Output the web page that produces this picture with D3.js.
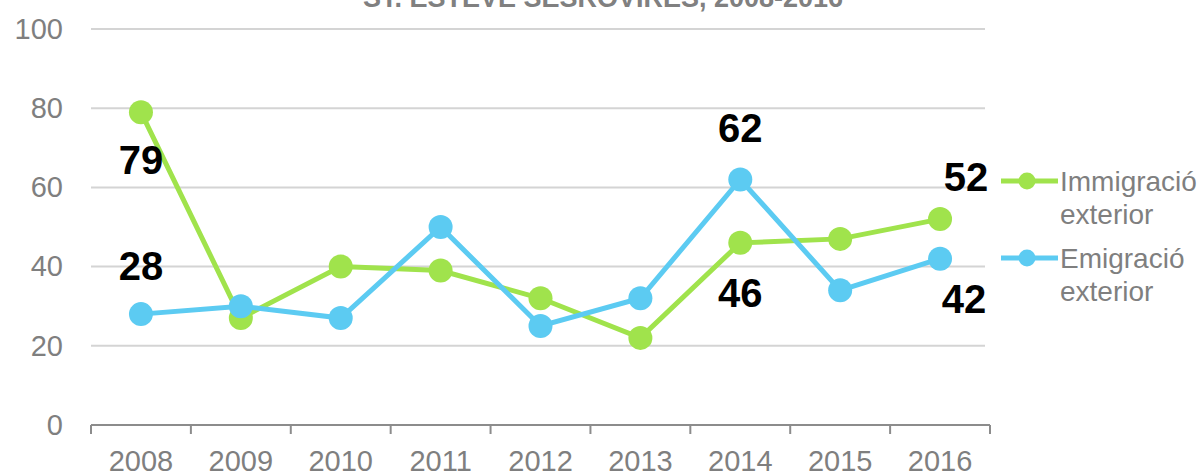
<!DOCTYPE html>
<html lang="ca">
<head>
	<meta charset="UTF-8">
	<title>Immigració i emigració exterior</title>
	<script src="https://cdn.jsdelivr.net/npm/d3@7"></script>
	<style>
		*{
			margin: 0px;
			box-sizing: border-box;
		}
		html,body{
			height:100%;
			overflow: hidden;
			background: #fff;
		}
		text{
			font-family: "Liberation Sans", Arial, sans-serif;
		}
		.yAxis path,.yAxis line{
			stroke:none;
		}
		.yAxis text,.xAxis text{
			font-size: 29px;
			fill: #7f7f7f;
		}
		.xAxis path,.xAxis line{
			stroke:#8c8c8c;
			stroke-width:2;
		}
		.grid line{
			stroke:#d4d4d4;
			stroke-width:2;
		}
		.series{
			fill:none;
			stroke-width:5;
		}
		.label{
			font-size: 40px;
			font-weight: bold;
			fill: #000;
		}
		.legend text{
			font-size: 28px;
			fill: #7f7f7f;
		}
	</style>
</head>
<body>
	<svg id="svg"></svg>
	<script>
		var years = ["2008", "2009", "2010", "2011", "2012", "2013", "2014", "2015", "2016"];
		var immigracio = [79, 27, 40, 39, 32, 22, 46, 47, 52];
		var emigracio = [28, 30, 27, 50, 25, 32, 62, 34, 42];
		var yTicks = [0, 20, 40, 60, 80, 100];
		var seriesNames = [["Immigració", "exterior"], ["Emigració", "exterior"]];
		var colors = ["#a0e34c", "#5ccbf2"];
		var title = "ST. ESTEVE SESROVIRES, 2008-2016";
		// which points get a value label, and where: [series, index, dx, dy]
		var labels = [[0, 0, 0, 62], [1, 0, 0, -34], [1, 6, 0, -37], [0, 6, 0, 64], [0, 8, 26, -28], [1, 8, 24, 54]];

		var w = 1204, h = 475,
			margin = {left: 91, top: 29, right: 216, bottom: 50},
			svg = d3.select("#svg").attr("width", w).attr("height", h);

		var x = d3.scaleBand().domain(years).range([margin.left, w - margin.right + 2]);
		var y = d3.scaleLinear().domain([0, 100]).range([h - margin.bottom, margin.top]);

		svg.append("text")
			.attr("x", 603).attr("y", 7)
			.attr("text-anchor", "middle")
			.style("font-size", "27px").style("font-weight", "bold").style("fill", "#808080")
			.text(title);

		svg.append("g").attr("class", "grid")
			.selectAll("line").data(yTicks.filter(function(d) { return d > 0; }))
			.enter().append("line")
			.attr("x1", margin.left).attr("x2", w - margin.right - 3)
			.attr("y1", function(d) { return y(d); })
			.attr("y2", function(d) { return y(d); });

		svg.append("g").attr("class", "yAxis")
			.attr("transform", "translate(" + margin.left + ",0)")
			.call(d3.axisLeft(y).tickValues(yTicks).tickSize(0).tickPadding(28));

		var xAxis = d3.axisBottom(x).tickSize(0).tickPadding(20);
		var gx = svg.append("g").attr("class", "xAxis")
			.attr("transform", "translate(0," + y(0) + ")")
			.call(xAxis);
		gx.select(".domain").attr("d", "M" + margin.left + ",0H" + (w - margin.right + 2));
		// tick marks at category boundaries
		gx.selectAll(".sep").data(years.concat(["end"]))
			.enter().append("line").attr("class", "sep")
			.attr("x1", function(d, i) { return i < years.length ? x(d) : x(years[years.length - 1]) + x.bandwidth(); })
			.attr("x2", function(d, i) { return i < years.length ? x(d) : x(years[years.length - 1]) + x.bandwidth(); })
			.attr("y1", 0).attr("y2", 9);
		gx.selectAll(".tick text").attr("dy", "0.9em");

		var cx = function(d, i) { return x(years[i]) + x.bandwidth() / 2; };
		var line = d3.line().x(cx).y(function(d) { return y(d); });

		[immigracio, emigracio].forEach(function(data, s) {
			var g = svg.append("g");
			g.append("path").attr("class", "series")
				.attr("d", line(data))
				.attr("stroke", colors[s]);
			g.selectAll("circle").data(data).enter().append("circle")
				.attr("cx", cx)
				.attr("cy", function(d) { return y(d); })
				.attr("r", 12)
				.attr("fill", colors[s]);
		});

		svg.append("g").selectAll("text").data(labels).enter().append("text")
			.attr("class", "label")
			.attr("text-anchor", "middle")
			.attr("x", function(d) { return cx(null, d[1]) + d[2]; })
			.attr("y", function(d) { var v = d[0] == 0 ? immigracio[d[1]] : emigracio[d[1]]; return y(v) + d[3]; })
			.text(function(d) { return d[0] == 0 ? immigracio[d[1]] : emigracio[d[1]]; });

		var legend = svg.append("g").attr("class", "legend");
		seriesNames.forEach(function(name, i) {
			var ly = 181 + i * 77;
			legend.append("line")
				.attr("x1", 1001).attr("x2", 1058)
				.attr("y1", ly).attr("y2", ly)
				.attr("stroke", colors[i]).attr("stroke-width", 5);
			legend.append("circle")
				.attr("cx", 1027).attr("cy", ly).attr("r", 8.5)
				.attr("fill", colors[i]);
			legend.append("text")
				.attr("x", 1060).attr("y", ly + 10)
				.text(name[0]);
			legend.append("text")
				.attr("x", 1060).attr("y", ly + 43)
				.text(name[1]);
		});
	</script>
</body>
</html>
